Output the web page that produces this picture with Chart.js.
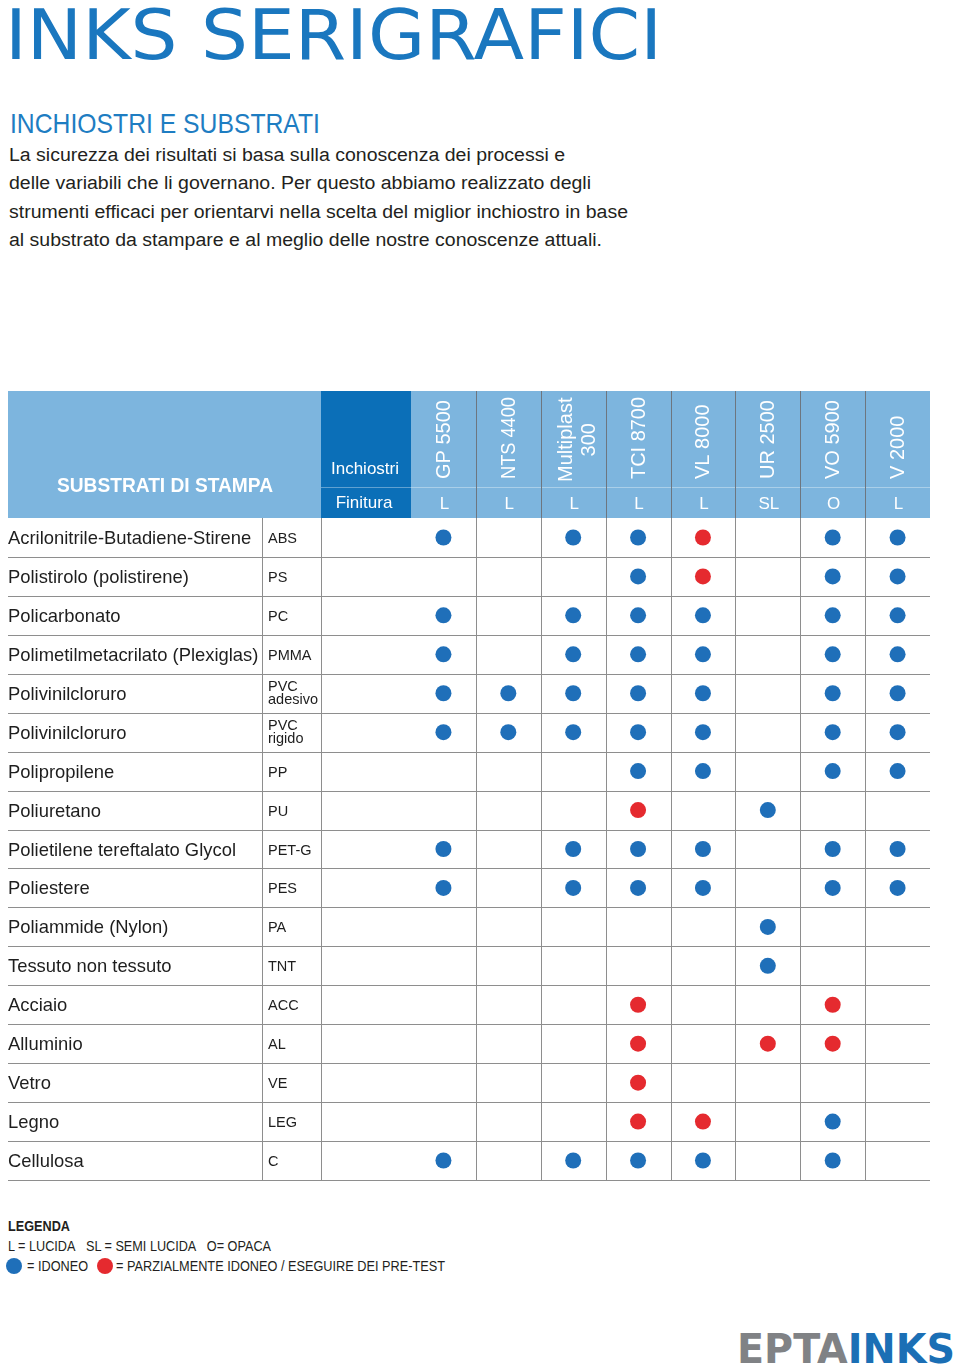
<!DOCTYPE html>
<html><head><meta charset="utf-8">
<script src="https://cdn.jsdelivr.net/npm/chart.js@4.4.1/dist/chart.umd.min.js"></script>
<style>
html,body{margin:0;padding:0;background:#fff;}
body{width:960px;height:1368px;position:relative;overflow:hidden;font-family:"Liberation Sans",Arial,sans-serif;}
.abs{position:absolute;white-space:nowrap;}
.fit{display:inline-block;transform-origin:0 0;}
#tbl{position:absolute;left:0;top:391px;}
.dot{display:inline-block;width:16px;height:16px;border-radius:50%;position:absolute;}
</style></head><body>

<div class="abs" style="left:5px;top:0px;font-family:'DejaVu Sans';font-size:70px;line-height:70px;color:#1a77bf;"><span class="fit" data-w="657">INKS SERIGRAFICI</span></div>

<div class="abs" style="left:10px;top:110px;font-size:28px;line-height:28px;color:#1e7dc2;"><span class="fit" data-w="310">INCHIOSTRI E SUBSTRATI</span></div>

<div class="abs" style="left:9px;top:146px;font-size:18px;line-height:18px;color:#231f20;"><span class="fit" data-w="556">La sicurezza dei risultati si basa sulla conoscenza dei processi e</span></div>
<div class="abs" style="left:9px;top:174px;font-size:18px;line-height:18px;color:#231f20;"><span class="fit" data-w="582">delle variabili che li governano. Per questo abbiamo realizzato degli</span></div>
<div class="abs" style="left:9px;top:203px;font-size:18px;line-height:18px;color:#231f20;"><span class="fit" data-w="619">strumenti efficaci per orientarvi nella scelta del miglior inchiostro in base</span></div>
<div class="abs" style="left:9px;top:231px;font-size:18px;line-height:18px;color:#231f20;"><span class="fit" data-w="593">al substrato da stampare e al meglio delle nostre conoscenze attuali.</span></div>

<canvas id="tbl" width="960" height="800"></canvas>

<div class="abs" style="left:8px;top:1219px;font-size:14px;line-height:14px;font-weight:bold;color:#231f20;"><span class="fit" data-w="62">LEGENDA</span></div>
<div class="abs" style="left:8px;top:1239px;font-size:14px;line-height:14px;color:#231f20;"><span class="fit" data-w="263">L = LUCIDA&nbsp;&nbsp;&nbsp;SL = SEMI LUCIDA&nbsp;&nbsp;&nbsp;O= OPACA</span></div>
<span class="dot" style="left:6px;top:1258px;background:#1f6fb9;"></span>
<div class="abs" style="left:27px;top:1259px;font-size:14px;line-height:14px;color:#231f20;"><span class="fit" data-w="61">= IDONEO</span></div>
<span class="dot" style="left:97px;top:1258px;background:#e52a2f;"></span>
<div class="abs" style="left:116px;top:1259px;font-size:14px;line-height:14px;color:#231f20;"><span class="fit" data-w="329">= PARZIALMENTE IDONEO / ESEGUIRE DEI PRE-TEST</span></div>

<div class="abs" style="left:737px;top:1329px;font-family:'DejaVu Sans';font-weight:bold;font-size:41px;line-height:41px;"><span class="fit" data-w="218"><span style="color:#808285">EPTA</span><span style="color:#1b6fb5">INKS</span></span></div>

<script>
// ---- data ----
const inks = ['GP 5500', 'NTS 4400', 'Multiplast\n300', 'TCI 8700', 'VL 8000', 'UR 2500', 'VO 5900', 'V 2000'];
const finish = ['L', 'L', 'L', 'L', 'L', 'SL', 'O', 'L'];
const substrates = ['Acrilonitrile-Butadiene-Stirene', 'Polistirolo (polistirene)', 'Policarbonato',
  'Polimetilmetacrilato (Plexiglas)', 'Polivinilcloruro', 'Polivinilcloruro', 'Polipropilene', 'Poliuretano',
  'Polietilene tereftalato Glycol', 'Poliestere', 'Poliammide (Nylon)', 'Tessuto non tessuto', 'Acciaio',
  'Alluminio', 'Vetro', 'Legno', 'Cellulosa'];
const codes = ['ABS', 'PS', 'PC', 'PMMA', 'PVC\nadesivo', 'PVC\nrigido', 'PP', 'PU', 'PET-G', 'PES', 'PA',
  'TNT', 'ACC', 'AL', 'VE', 'LEG', 'C'];
// 1 = idoneo (blue), 2 = parzialmente idoneo (red), 0 = none ; one array per ink, in substrate order
const gp5500     = [1,0,1,1,1,1,0,0,1,1,0,0,0,0,0,0,1];
const nts4400    = [0,0,0,0,1,1,0,0,0,0,0,0,0,0,0,0,0];
const multiplast = [1,0,1,1,1,1,0,0,1,1,0,0,0,0,0,0,1];
const tci8700    = [1,1,1,1,1,1,1,2,1,1,0,0,2,2,2,2,1];
const vl8000     = [2,2,1,1,1,1,1,0,1,1,0,0,0,0,0,2,1];
const ur2500     = [0,0,0,0,0,0,0,1,0,0,1,1,0,2,0,0,0];
const vo5900     = [1,1,1,1,1,1,1,0,1,1,0,0,2,2,0,1,1];
const v2000      = [1,1,1,1,1,1,1,0,1,1,0,0,0,0,0,0,0];
const suitability = [gp5500, nts4400, multiplast, tci8700, vl8000, ur2500, vo5900, v2000];

const BLUE = '#1f6fb9', RED = '#e52a2f';
const FONT = '"Liberation Sans", Arial, sans-serif';

function pointsFor(level) {
  const pts = [];
  suitability.forEach((col, c) => col.forEach((v, r) => { if (v === level) pts.push({x: inks[c], y: codes[r]}); }));
  return pts;
}

// fit HTML text widths
document.querySelectorAll('.fit').forEach(el => {
  const w = el.getBoundingClientRect().width;
  const t = +el.dataset.w;
  if (w > 0) el.style.transform = 'scaleX(' + (t / w) + ')';
});

const tablePlugin = {
  id: 'tablePlugin',
  beforeDraw(chart) {
    const {ctx, chartArea: a} = chart;
    ctx.save();
    ctx.fillStyle = '#7db5de';
    ctx.fillRect(8, 0, a.right - 8, a.top);
    ctx.fillStyle = '#0b6fb8';
    ctx.fillRect(321, 0, a.left - 321, a.top);
    ctx.fillStyle = 'rgba(255,255,255,0.35)';
    ctx.fillRect(321, 96, a.right - 321, 1);
    ctx.restore();
  },
  beforeDatasetsDraw(chart) {
    const {ctx, chartArea: a, scales: {x, y}} = chart;
    ctx.save();
    ctx.lineWidth = 1;
    for (let i = 1; i < inks.length; i++) {
      const px = Math.round(x.getPixelForValue(i - 0.5)) + 0.5;
      ctx.strokeStyle = '#6d7680';
      ctx.beginPath(); ctx.moveTo(px, 0); ctx.lineTo(px, a.top); ctx.stroke();
      ctx.strokeStyle = '#8e8e8e';
      ctx.beginPath(); ctx.moveTo(px, a.top); ctx.lineTo(px, a.bottom); ctx.stroke();
    }
    ctx.strokeStyle = '#8e8e8e';
    [262, 321].forEach(px => {
      ctx.beginPath(); ctx.moveTo(px + 0.5, a.top); ctx.lineTo(px + 0.5, a.bottom); ctx.stroke();
    });
    for (let r = 1; r <= codes.length; r++) {
      const py = Math.round(y.getPixelForValue(r - 0.5)) + 0.5;
      ctx.beginPath(); ctx.moveTo(8, py); ctx.lineTo(a.right, py); ctx.stroke();
    }
    ctx.restore();
  },
  afterDraw(chart) {
    const {ctx, scales: {x, y}} = chart;
    ctx.save();
    ctx.fillStyle = '#fff';
    ctx.textBaseline = 'alphabetic';
    ctx.textAlign = 'center';
    ctx.font = 'bold 20px ' + FONT;
    ctx.fillText('SUBSTRATI DI STAMPA', 165, 101, 216);
    ctx.font = '17px ' + FONT;
    ctx.fillText('Inchiostri', 365, 83, 76);
    ctx.fillText('Finitura', 364, 117, 63);
    inks.forEach((name, i) => {
      const cx = x.getPixelForValue(i);
      const lines = name.split('\n');
      ctx.font = '20px ' + FONT;
      ctx.save();
      ctx.translate(cx, 88);
      ctx.rotate(-Math.PI / 2);
      ctx.textBaseline = 'middle';
      if (lines.length === 1) {
        ctx.textAlign = 'left';
        ctx.fillText(lines[0], 0, 1, 82);
      } else {
        const mw = Math.min(86, Math.max(...lines.map(l => ctx.measureText(l).width)));
        ctx.textAlign = 'center';
        lines.forEach((l, k) => ctx.fillText(l, mw / 2 - 3, -7 + k * 23, 86));
      }
      ctx.restore();
      ctx.font = '17px ' + FONT;
      ctx.textAlign = 'center';
      ctx.fillText(finish[i], cx + 1, 118);
    });
    ctx.fillStyle = '#1e1e1e';
    ctx.textAlign = 'left';
    codes.forEach((code, r) => {
      const cy = y.getPixelForValue(r);
      ctx.font = '18.4px ' + FONT;
      ctx.fillText(substrates[r], 8, cy + 6.5);
      ctx.font = '14.5px ' + FONT;
      const lines = code.split('\n');
      if (lines.length === 1) {
        ctx.fillText(lines[0], 268, cy + 5.5);
      } else {
        ctx.fillText(lines[0], 268, cy - 2.5);
        ctx.fillText(lines[1], 268, cy + 11);
      }
    });
    ctx.restore();
  }
};

new Chart(document.getElementById('tbl'), {
  type: 'scatter',
  data: {
    datasets: [
      {label: 'IDONEO', data: pointsFor(1), backgroundColor: BLUE, borderWidth: 0, pointRadius: 8},
      {label: 'PARZIALMENTE IDONEO / ESEGUIRE DEI PRE-TEST', data: pointsFor(2), backgroundColor: RED, borderWidth: 0, pointRadius: 8}
    ]
  },
  options: {
    responsive: false,
    animation: false,
    devicePixelRatio: 1,
    events: [],
    layout: {padding: {left: 411, right: 30, top: 127, bottom: 11}},
    plugins: {legend: {display: false}, tooltip: {enabled: false}},
    scales: {
      x: {type: 'category', labels: inks, offset: true, display: false},
      y: {type: 'category', labels: codes, offset: true, display: false}
    }
  },
  plugins: [tablePlugin]
});
</script>
</body></html>
